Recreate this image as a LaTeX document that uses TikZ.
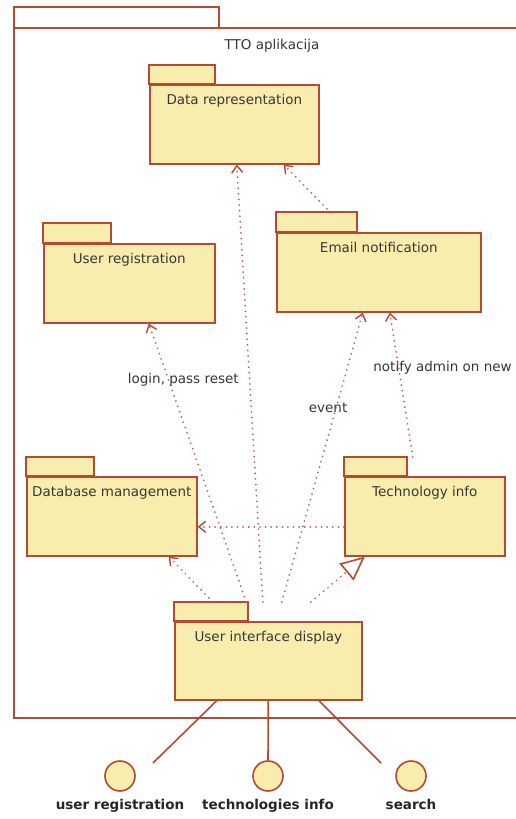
\documentclass[tikz,border=0pt]{standalone}
\usepackage{fontspec}
\setmainfont{DejaVu Sans}
\usetikzlibrary{arrows.meta}
\definecolor{umlred}{RGB}{184,72,48}
\definecolor{umldot}{RGB}{196,96,82}
\definecolor{umlfill}{RGB}{249,237,174}
\definecolor{umltext}{RGB}{55,55,55}
\tikzset{
 pkg/.style={draw=umlred, fill=umlfill, line width=1.6pt, minimum height=79pt, inner sep=0pt, anchor=north west},
 pkgname/.style={anchor=north, yshift=-7pt, text=umltext, font=\fontsize{13.5}{15}\selectfont},
 dep/.style={draw=umldot, line width=1.9pt, dash pattern=on 0.1pt off 5.5pt, line cap=round,
  -{Straight Barb[length=7pt,width=11pt,line width=1.4pt,line cap=butt,color=umlred]}},
 real/.style={draw=umldot, line width=1.9pt, dash pattern=on 0.1pt off 5.5pt, line cap=round,
  -{Triangle[open,length=24pt,width=22pt,line width=1.6pt,color=umlred]}},
 deplbl/.style={text=umltext, font=\fontsize{13.5}{15}\selectfont},
 iface/.style={draw=umlred, fill=umlfill, line width=1.6pt, circle, minimum size=30pt, inner sep=0pt},
 ifacelbl/.style={text=black!85, font=\bfseries\fontsize{13.5}{15}\selectfont, yshift=-4pt},
 link/.style={draw=umlred, line width=1.6pt}
}
\begin{document}
\begin{tikzpicture}[x=1pt, y=-1pt]
 \useasboundingbox[fill=white] (0,0) rectangle (516,819);
 % frame of the application
 \draw[umlred, line width=1.6pt] (14,28) rectangle (219,7);
 \draw[umlred, line width=1.6pt] (517,28) -- (14,28) -- (14,718) -- (517,718);
 \node[deplbl] (app) at (272,46) {TTO aplikacija};

 % packages
 \node[pkg, minimum width=169pt, label={[pkgname]north:Data representation}] (datarep) at (149,84) {};
 \draw[umlred, fill=umlfill, line width=1.6pt] (datarep.north west) rectangle ++(66,-19);
 \node[pkg, minimum width=171pt, label={[pkgname]north:User registration}] (userreg) at (43,243) {};
 \draw[umlred, fill=umlfill, line width=1.6pt] (userreg.north west) rectangle ++(68,-20);
 \node[pkg, minimum width=204pt, label={[pkgname]north:Email notification}] (email) at (276,232) {};
 \draw[umlred, fill=umlfill, line width=1.6pt] (email.north west) rectangle ++(81,-20);
 \node[pkg, minimum width=170pt, label={[pkgname]north:Database management}] (dbm) at (26,476) {};
 \draw[umlred, fill=umlfill, line width=1.6pt] (dbm.north west) rectangle ++(68,-19);
 \node[pkg, minimum width=160pt, label={[pkgname]north:Technology info}] (tech) at (344,476) {};
 \draw[umlred, fill=umlfill, line width=1.6pt] (tech.north west) rectangle ++(63,-19);
 \node[pkg, minimum width=187pt, minimum height=78pt, label={[pkgname]north:User interface display}] (uid) at (174,621) {};
 \draw[umlred, fill=umlfill, line width=1.6pt] (uid.north west) rectangle ++(74,-19);

 % dependencies
 \draw[dep] ([shift={(-22,-19)}]uid.north) -- node[deplbl, pos=0.8, xshift=15pt] (lblogin) {login, pass reset} ([xshift=19.5pt]userreg.south);
 \draw[dep] ([shift={(-5.5,-19)}]uid.north) -- ([xshift=2.5pt]datarep.south);
 \draw[dep] ([shift={(13.5,-19)}]uid.north) -- node[deplbl, pos=0.67, xshift=-8pt] (lbevent) {event} ([xshift=-16pt]email.south);
 \draw[dep] ([shift={(-55.5,-19)}]uid.north) -- ([xshift=57pt]dbm.south);
 \draw[real] ([shift={(42.5,-19)}]uid.north) -- ([xshift=-60pt]tech.south);
 \draw[dep] ([shift={(-12,-19)}]tech.north) -- node[deplbl, pos=0.62, xshift=44pt] (lbnotify) {notify admin on new} ([xshift=11pt]email.south);
 \draw[dep] ([shift={(-48,-19)}]email.north) -- ([xshift=49.5pt]datarep.south);
 \draw[dep] ([yshift=-10.5pt]tech.west) -- ([yshift=-10.5pt]dbm.east);

 % provided interfaces
 \node[iface, label={[ifacelbl]below:user registration}] (ifreg) at (120,776) {};
 \node[iface, label={[ifacelbl]below:technologies info}] (iftech) at (268,776) {};
 \node[iface, label={[ifacelbl]below:search}] (ifsearch) at (411,776) {};
 \coordinate (endreg) at (153,763);
 \coordinate (endsearch) at (381,763);
 \draw[link] ([xshift=-51.5pt]uid.south) -- (endreg);
 \draw[link] (uid.south) -- (iftech.north);
 \draw[link] ([xshift=50.5pt]uid.south) -- (endsearch);
\end{tikzpicture}
\end{document}
